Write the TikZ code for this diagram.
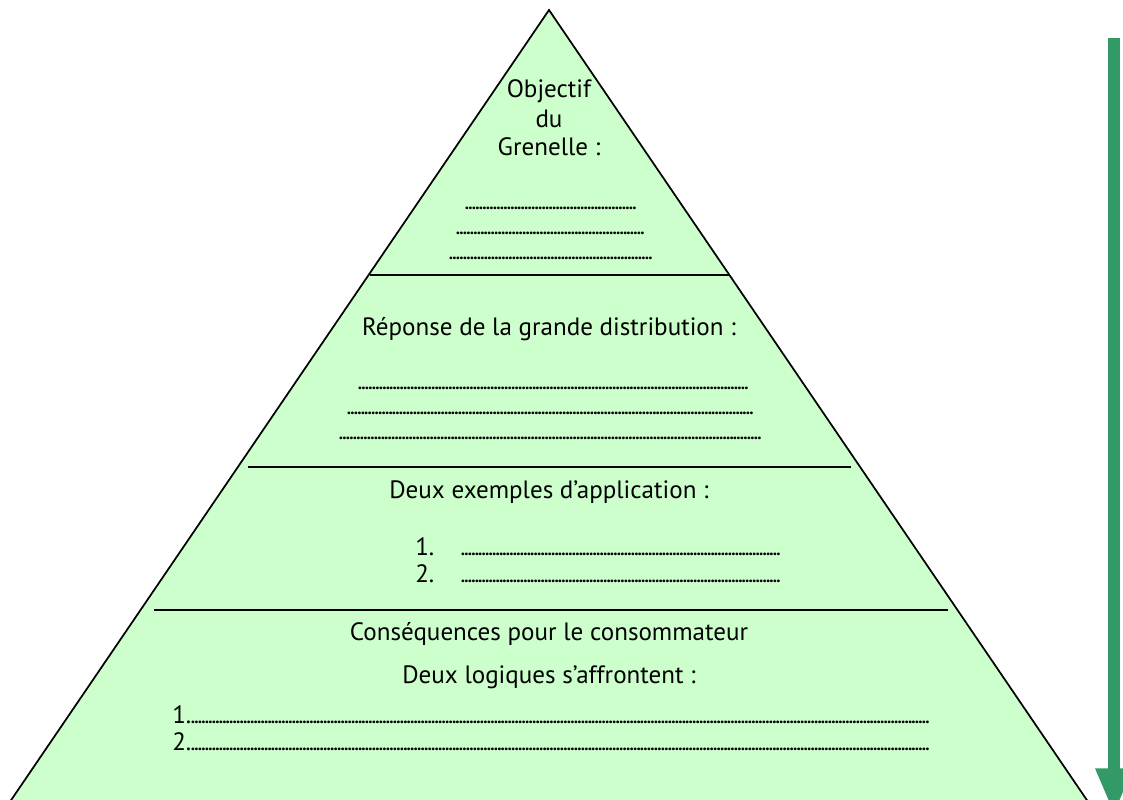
\documentclass[tikz,border=0pt]{standalone}
\usepackage{fontspec}
\setmainfont{PT Sans}
\usepackage{tikz}
\usetikzlibrary{arrows.meta, calc}

\definecolor{vertpale}{HTML}{CCFFCC}
\definecolor{vertfleche}{HTML}{339966}

\newdimen\pxu \pxu=0.75pt
\newcommand{\pointilles}[1]{\makebox[#1\pxu][l]{\fontsize{13pt}{13pt}\selectfont\bfseries\xleaders\hbox to 2.6pt{\hss.\hss}\hfill}}

\tikzset{
  texte/.style={inner sep=0pt, anchor=base, font=\fontsize{18.8pt}{22pt}\selectfont},
  ligne/.style={inner sep=0pt, anchor=base west, font=\fontsize{18.8pt}{22pt}\selectfont},
  separation/.style={line width=1.3pt},
  fleche/.style={line width=9pt, vertfleche, -{Triangle[width=25.5pt, length=35pt]}}
}

\begin{document}
\begin{tikzpicture}[x=0.75pt, y=-0.75pt]

      \clip (0,0) rectangle (1123,799);

      % PYRAMIDE

      \coordinate (sommet) at (549,10);
      \coordinate (baseG) at (3,812);
      \coordinate (baseD) at (1095,812);
      \filldraw[fill=vertpale, draw=black, line width=1.3pt, line join=miter]
        (sommet) -- (baseD) -- (baseG) -- cycle;

      % SEPARATIONS

      \draw[separation] (370,275) -- (729,275);
      \draw[separation] (248,467) -- (851,467);
      \draw[separation] (154,610) -- (948,610);

      % TEXTES

      \node[texte] (objectif) at (549,98) {Objectif};
      \node[texte] (du) at (549,127) {du};
      \node[texte] (grenelle) at (549,155) {Grenelle :};
      \node[ligne] (pointA1) at (465,209) {\pointilles{171}};
      \node[ligne] (pointA2) at (456,234) {\pointilles{188}};
      \node[ligne] (pointA3) at (449,259) {\pointilles{203}};

      \node[texte] (reponse) at (549,335) {Réponse de la grande distribution :};
      \node[ligne] (pointB1) at (358,389) {\pointilles{390}};
      \node[ligne] (pointB2) at (347,414) {\pointilles{406}};
      \node[ligne] (pointB3) at (339,439) {\pointilles{422}};

      \node[texte] (exemples) at (549,498) {Deux exemples d’application :};
      \node[ligne] (numC1) at (415,555) {1.};
      \node[ligne] (pointC1) at (461,555) {\pointilles{319}};
      \node[ligne] (numC2) at (415,582) {2.};
      \node[ligne] (pointC2) at (461,582) {\pointilles{319}};

      \node[texte] (consequences) at (549,640) {Conséquences pour le consommateur};
      \node[texte] (logiques) at (549,683) {Deux logiques s’affrontent :};
      \node[ligne] (logique1) at (172,723) {1.\pointilles{738}};
      \node[ligne] (logique2) at (172,750) {2.\pointilles{738}};

      % FLECHE

      \coordinate (flecheHaut) at (1114,38);
      \coordinate (flecheBas) at (1114,815);
      \draw[fleche] (flecheHaut) -- (flecheBas);

    \end{tikzpicture}
\end{document}
